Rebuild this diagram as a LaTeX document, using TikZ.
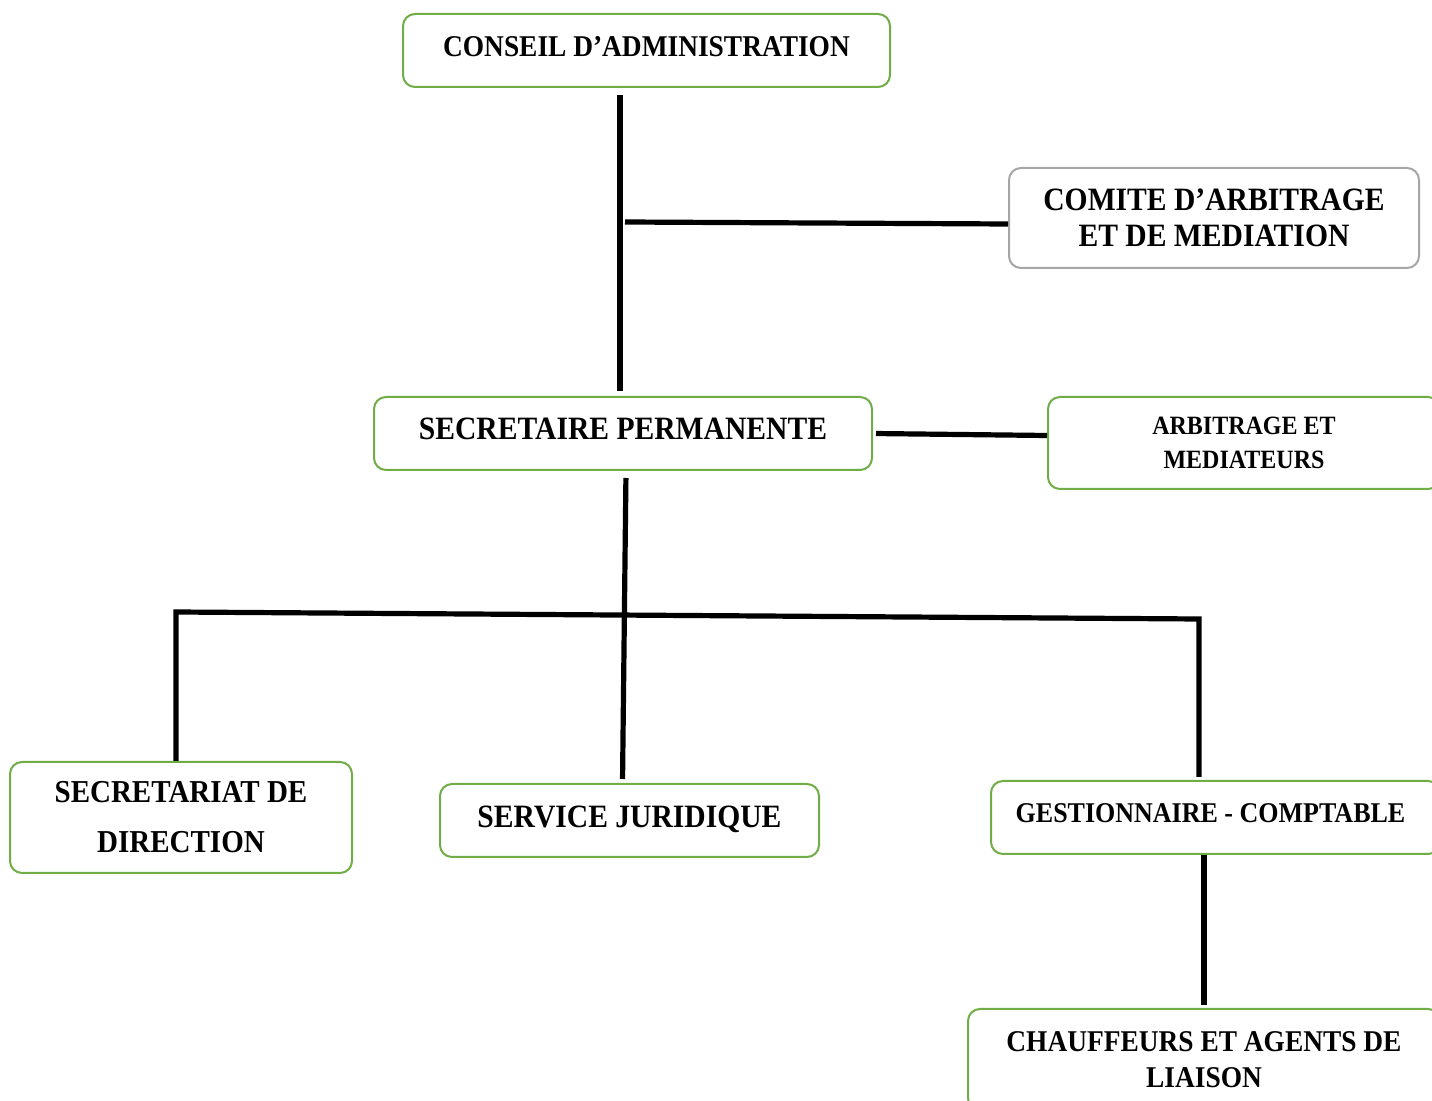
\documentclass[tikz,border=0pt]{standalone}
\usepackage{fontspec}
\setmainfont{Liberation Serif}
\usepackage{graphicx}
\usepackage{tikz}
\usetikzlibrary{positioning}
\definecolor{boxgreen}{RGB}{112,173,71}
\definecolor{boxgrey}{RGB}{166,166,166}
\newcommand{\tallline}[1]{\scalebox{1}[1.1]{#1}}

\begin{document}
\begin{tikzpicture}[x=0.5pt,y=-0.5pt,
    box/.style={draw=boxgreen,line width=1pt,rounded corners=6pt,align=center,inner sep=0pt,
      font=\bfseries\fontsize{14.8}{18}\selectfont},
    link/.style={line width=2.6pt,line cap=butt}]
   \useasboundingbox (0,0) rectangle (1432,1101);
   \clip (0,0) rectangle (1432,1101);
   \node[box, minimum width=243.5pt, minimum height=36.5pt, text depth=4.5pt,
     font=\bfseries\fontsize{13.7}{17}\selectfont] (conseil) at (646.5,50.5) {\tallline{CONSEIL D’ADMINISTRATION}};
   \node[box, draw=boxgrey, minimum width=205pt, minimum height=50pt] (comite) at (1214,218)
     {\tallline{COMITE D’ARBITRAGE}\\\tallline{ET DE MEDIATION}};
   \node[box, minimum width=249pt, minimum height=36.5pt, text depth=4.5pt] (secretaire) at (623,433.5)
     {\tallline{SECRETAIRE PERMANENTE}};
   \node[box, minimum width=196pt, minimum height=46pt, font=\bfseries\fontsize{12}{17}\selectfont] (arbitrage) at (1244,443)
     {\tallline{ARBITRAGE ET}\\\tallline{MEDIATEURS}};
   \node[box, minimum width=171pt, minimum height=55.5pt, font=\bfseries\fontsize{14.5}{25}\selectfont] (secretariat) at (181,817.5)
     {\tallline{SECRETARIAT DE}\\\tallline{DIRECTION}};
   \node[box, minimum width=189.5pt, minimum height=36.5pt, text depth=3.5pt] (service) at (629.5,820.5)
     {\tallline{SERVICE JURIDIQUE}};
   \node[box, minimum width=224.5pt, minimum height=36.5pt, text depth=4.5pt,
     font=\bfseries\fontsize{13}{17}\selectfont] (gestion) at (1215.5,817.5)
     {\tallline{GESTIONNAIRE - COMPTABLE}\hspace*{5pt}};
   \node[box, minimum width=236pt, minimum height=50.5pt, font=\bfseries\fontsize{13.7}{18}\selectfont] (chauffeurs) at (1204,1059.5)
     {\tallline{CHAUFFEURS ET AGENTS DE}\\\tallline{LIAISON}};
   % junctions
   \coordinate (jtop) at (620,222);
   \coordinate (bl) at (176,612);
   \coordinate (br) at (1199,619);
   \draw[link, shorten <=3.5pt, shorten >=2.5pt] (conseil.south -| jtop) -- (secretaire.north -| jtop);
   \draw[link] ([xshift=2.5pt]jtop) -- ([yshift=-1pt]comite.west |- jtop);
   \draw[link, shorten <=1.5pt] (secretaire.east) -- ([yshift=-1pt]arbitrage.west |- secretaire.east);
   \draw[link, shorten <=3.5pt, shorten >=2pt] ([xshift=1.5pt]secretaire.south) -- ([xshift=-3.5pt]service.north);
   \draw[link] (secretariat.north -| bl) -- (bl) -- (br) -- ([yshift=1.5pt]gestion.north -| br);
   \draw[link, shorten >=1.5pt] (gestion.south -| chauffeurs.north) -- (chauffeurs.north);
\end{tikzpicture}
\end{document}
